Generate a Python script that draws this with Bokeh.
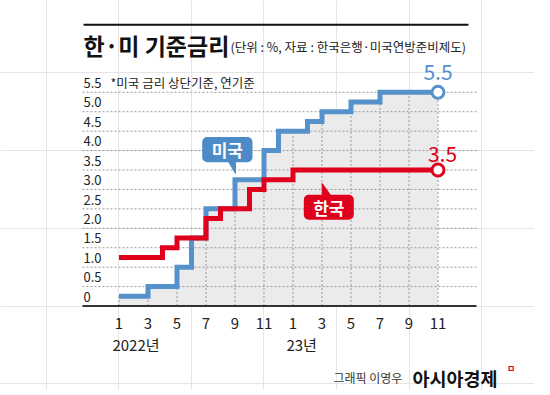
from bokeh.plotting import figure
from bokeh.models import Range1d
from bokeh.core.properties import value
from bokeh.embed import file_html
from bokeh.resources import INLINE

# ---------------- data ----------------
# month index 0 = Jan 2022 ... 22 = Nov 2023
months = list(range(23))
us_rate = [0.25, 0.25, 0.5, 0.5, 1.0, 1.75, 2.5, 2.5, 3.25, 3.25, 4.0, 4.5,
           4.5, 4.75, 5.0, 5.0, 5.25, 5.25, 5.5, 5.5, 5.5, 5.5, 5.5]
kr_rate = [1.25, 1.25, 1.25, 1.5, 1.75, 1.75, 2.25, 2.5, 2.5, 3.0, 3.25, 3.25,
           3.5, 3.5, 3.5, 3.5, 3.5, 3.5, 3.5, 3.5, 3.5, 3.5, 3.5]
tick_months = list(range(0, 23, 2))
tick_labels = ["1", "3", "5", "7", "9", "11", "1", "3", "5", "7", "9", "11"]
year_start = [0, 12]
year_labels = ["2022년", "23년"]
grid_values = [0.5, 1.0, 1.5, 2.0, 2.5, 3.0, 3.5, 4.0, 4.5, 5.0, 5.5]
y_label_values = [0, 0.5, 1.0, 1.5, 2.0, 2.5, 3.0, 3.5, 4.0, 4.5, 5.0, 5.5]
y_label_texts = ["0", "0.5", "1.0", "1.5", "2.0", "2.5", "3.0", "3.5", "4.0", "4.5", "5.0", "5.5"]

FONT = "Noto Sans CJK KR"
BLUE = "#5592cc"
BLUE_BOX = "#4d8bc8"
RED = "#e0001b"
GRID = "#9a9a9a"

X0, X1 = -2.517, 24.655      # plot area extent (months)

p = figure(width=534, height=390,
           x_range=Range1d(-8.172, 28.655), y_range=Range1d(-2.174, 7.862),
           output_backend="svg", toolbar_location=None,
           x_axis_location=None, y_axis_location=None,
           min_border_left=0, min_border_right=0,
           min_border_top=0, min_border_bottom=0)
p.outline_line_color = None
p.background_fill_color = "white"
p.border_fill_color = "white"

# gray area under US line
p.varea_step(x=months, y1=[0] * len(months), y2=us_rate, step_mode="after",
             fill_color="#ebebeb")

# horizontal dotted grid
p.segment(x0=[X0] * len(grid_values), y0=grid_values,
          x1=[X1] * len(grid_values), y1=grid_values,
          line_color=GRID, line_dash="2 2", line_width=1)

# vertical dotted lines inside gray area
p.segment(x0=tick_months, y0=[0] * len(tick_months),
          x1=tick_months, y1=[us_rate[m] for m in tick_months],
          line_color=GRID, line_dash="2 2", line_width=1)

# baseline axis line
p.segment(x0=[X0], y0=[0], x1=[X1], y1=[0], line_color="#333333", line_width=2)

# step lines
p.step(months, us_rate, mode="after", line_color=BLUE, line_width=5, line_join="miter")
p.step(months, kr_rate, mode="after", line_color=RED, line_width=5, line_join="miter")

# end markers
p.scatter([months[-1]], [us_rate[-1]], size=12, fill_color="white",
          line_color=BLUE, line_width=3)
p.scatter([months[-1]], [kr_rate[-1]], size=12, fill_color="white",
          line_color=RED, line_width=3)

# y tick labels (sitting above their grid lines)
p.text(x=[-2.448] * len(y_label_values), y=[v + 0.24 for v in y_label_values],
       text=y_label_texts, text_font=value(FONT), text_font_size="13px",
       text_color="#222222", text_align="left", text_baseline="middle")

# x tick labels
p.text(x=tick_months, y=[-0.443] * len(tick_months), text=tick_labels,
       text_font=value(FONT), text_font_size="15px", text_color="#222222",
       text_align="center", text_baseline="middle")
p.text(x=[m - 0.45 for m in year_start], y=[-0.991] * len(year_start), text=year_labels,
       text_font=value(FONT), text_font_size="15px", text_color="#222222",
       text_align="left", text_baseline="middle")

# header
p.segment(x0=[-2.448], y0=[7.236], x1=[24.103], y1=[7.236], line_color="#111111", line_width=2)
p.text(x=[-2.448], y=[6.729], text=["한·미 기준금리"], text_font=value(FONT),
       text_font_size="23px", text_font_style="bold", text_color="#111111",
       text_align="left", text_baseline="middle")
p.text(x=[7.69], y=[6.677], text=["(단위 : %, 자료 : 한국은행·미국연방준비제도)"],
       text_font=value(FONT), text_font_size="12.5px", text_color="#222222",
       text_align="left", text_baseline="middle")
p.text(x=[-0.586], y=[5.759], text=["*미국 금리 상단기준, 연기준"], text_font=value(FONT),
       text_font_size="12.5px", text_color="#222222",
       text_align="left", text_baseline="middle")

# end value labels
p.text(x=[months[-1]], y=[us_rate[-1] + 0.51], text=[f"{us_rate[-1]}"], text_font=value(FONT),
       text_font_size="21px", text_color=BLUE, text_align="center", text_baseline="middle")
p.text(x=[months[-1] + 0.31], y=[kr_rate[-1] + 0.41], text=[f"{kr_rate[-1]}"], text_font=value(FONT),
       text_font_size="21px", text_color=RED, text_align="center", text_baseline="middle")

# series tags with pointers
p.quad(left=[5.738], right=[9.207], top=[4.349], bottom=[3.70],
       fill_color=BLUE_BOX, line_color=None, border_radius=5)
p.patch(x=[7.55, 8.03, 8.03], y=[3.72, 3.72, 3.41], color=BLUE_BOX)
p.text(x=[7.47], y=[4.03], text=["미국"], text_font=value(FONT), text_font_size="17px",
       text_font_style="bold", text_color="white", text_align="center", text_baseline="middle")

p.quad(left=[12.745], right=[16.193], top=[2.865], bottom=[2.222],
       fill_color=RED, line_color=None, border_radius=5)
p.patch(x=[14.014, 14.586, 14.014], y=[2.85, 2.85, 3.152], color=RED)
p.text(x=[14.47], y=[2.548], text=["한국"], text_font=value(FONT), text_font_size="17px",
       text_font_style="bold", text_color="white", text_align="center", text_baseline="middle")

# footer
p.text(x=[14.79], y=[-1.84], text=["그래픽 이영우"], text_font=value(FONT),
       text_font_size="12px", text_color="#333333", text_align="left", text_baseline="middle")
p.text(x=[20.24], y=[-1.84], text=["아시아경제"], text_font=value(FONT),
       text_font_size="18.5px", text_font_style="bold", text_color="#111111",
       text_align="left", text_baseline="middle")
p.text(x=[26.75], y=[-1.62], text=["ㅁ"], text_font=value(FONT),
       text_font_size="9px", text_font_style="bold", text_color=RED,
       text_align="left", text_baseline="middle")

open("out.html", "w").write(file_html(p, INLINE))
